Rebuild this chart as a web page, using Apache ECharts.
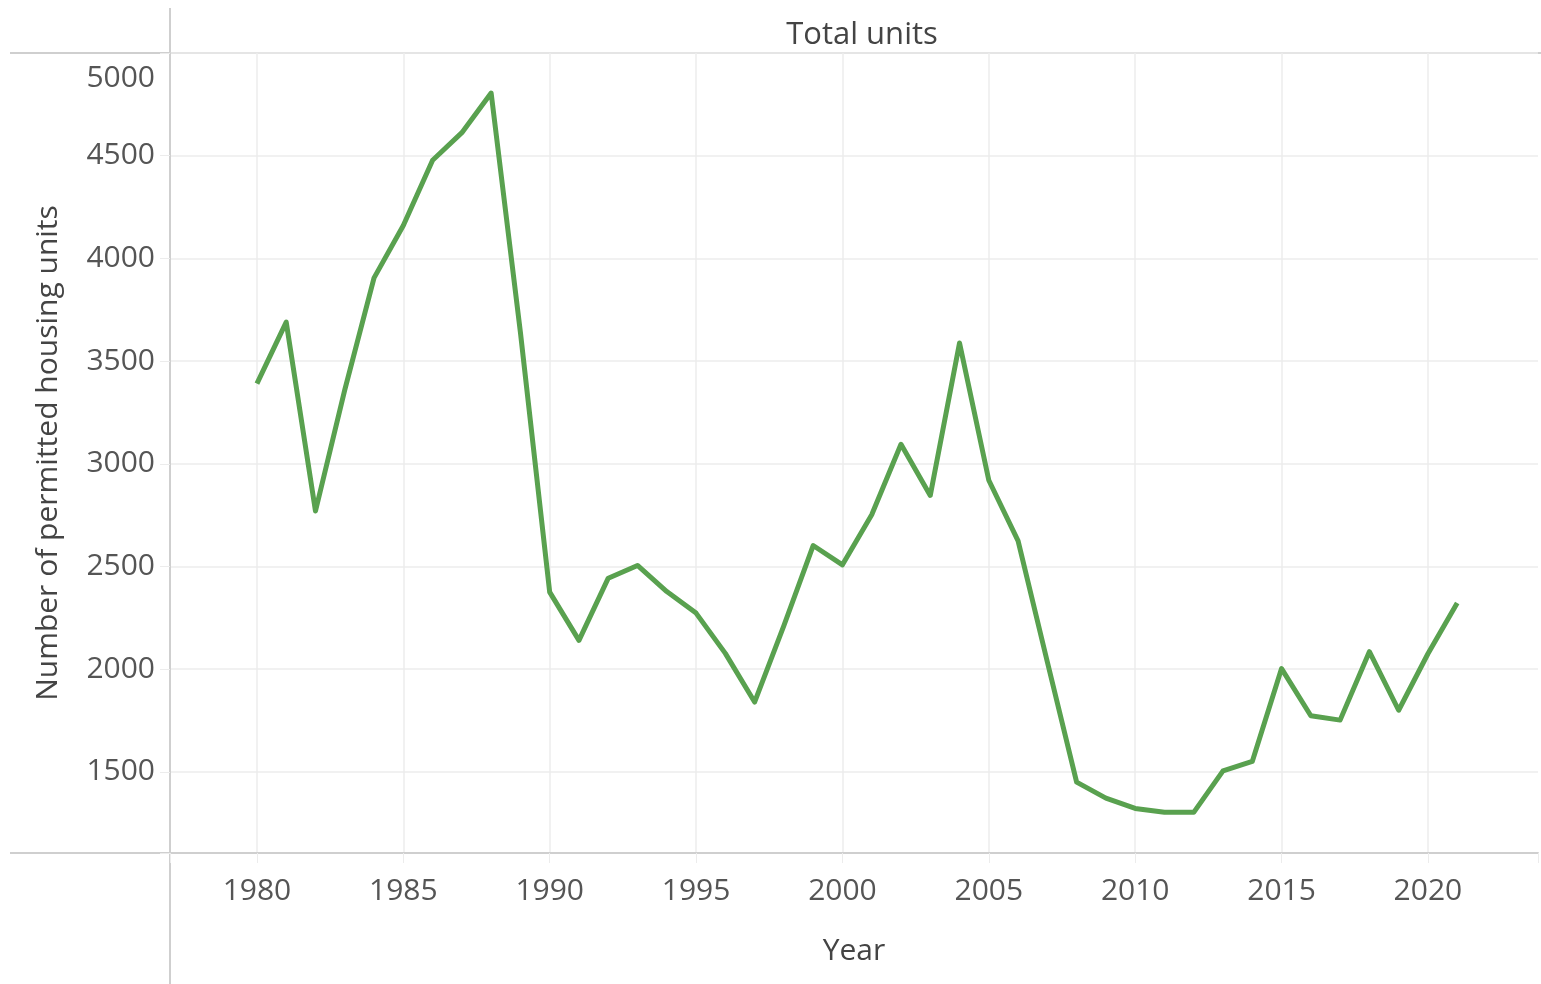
<!DOCTYPE html>
<html lang="en">

<head>
    <meta charset="UTF-8">
    <title>Total units</title>
    <style>
        html, body { margin: 0; padding: 0; background: #fff; }
        #chart { width: 1541px; height: 984px; }
    </style>
</head>

<body>
    <div id="chart"></div>

    <script src="https://cdn.jsdelivr.net/npm/echarts@6/dist/echarts.min.js"></script>
    <script>
        // permitted housing units per year
        var years = [1980, 1981, 1982, 1983, 1984, 1985, 1986, 1987, 1988, 1989,
            1990, 1991, 1992, 1993, 1994, 1995, 1996, 1997, 1998, 1999,
            2000, 2001, 2002, 2003, 2004, 2005, 2006, 2007, 2008, 2009,
            2010, 2011, 2012, 2013, 2014, 2015, 2016, 2017, 2018, 2019,
            2020, 2021];
        var totalUnits = [3390, 3690, 2770, 3360, 3905, 4160, 4478, 4612, 4805, 3640,
            2375, 2140, 2443, 2505, 2378, 2273, 2077, 1840, 2212, 2602,
            2508, 2752, 3095, 2846, 3588, 2920, 2625, 2035, 1450, 1372,
            1322, 1303, 1303, 1505, 1551, 2003, 1773, 1752, 2085, 1800,
            2075, 2322];
        var xTicks = [1980, 1985, 1990, 1995, 2000, 2005, 2010, 2015, 2020];
        var yTicks = [1500, 2000, 2500, 3000, 3500, 4000, 4500, 5000];

        var FONT = '"Open Sans", sans-serif';
        var chart = echarts.init(document.getElementById('chart'));

        var points = years.map(function (y, i) { return [y, totalUnits[i]]; });

        var option = {
            animation: false,
            title: {
                text: 'Total units',
                left: 857,
                textAlign: 'center',
                top: 15,
                textStyle: { fontFamily: FONT, fontSize: 31, fontWeight: 'normal', color: '#444' }
            },
            grid: { left: 170, right: 0, top: 53, bottom: 131 },
            xAxis: {
                type: 'value',
                min: 1977.03,
                max: 2023.76,
                minInterval: 5,
                maxInterval: 5,
                name: 'Year',
                nameLocation: 'middle',
                nameGap: 83,
                nameTextStyle: { fontFamily: FONT, fontSize: 30, color: '#444' },
                axisLine: { lineStyle: { color: '#cfcfcf', width: 2 } },
                axisTick: { show: true, length: 10, lineStyle: { color: '#ececec' } },
                splitLine: {
                    show: true, showMinLine: false, showMaxLine: false,
                    lineStyle: { color: '#ececec', width: 1.5 }
                },
                axisLabel: {
                    margin: 23,
                    fontFamily: FONT, fontSize: 30, color: '#555',
                    formatter: function (v) { return xTicks.indexOf(v) >= 0 ? String(v) : ''; }
                }
            },
            yAxis: {
                type: 'value',
                min: 1105,
                max: 5000,
                minInterval: 500,
                maxInterval: 500,
                name: 'Number of permitted housing units',
                nameLocation: 'middle',
                nameRotate: 90,
                nameGap: 107,
                nameTextStyle: { fontFamily: FONT, fontSize: 30, color: '#444' },
                axisLine: { show: true, lineStyle: { color: '#cfcfcf', width: 2 } },
                axisTick: { show: true, length: 10, lineStyle: { color: '#ececec' } },
                splitLine: {
                    show: true, showMinLine: false,
                    lineStyle: { color: '#ececec', width: 1.5 }
                },
                axisLabel: {
                    margin: 15,
                    fontFamily: FONT, fontSize: 30, color: '#555',
                    formatter: function (v) {
                        if (yTicks.indexOf(v) < 0) return '';
                        // top label sits inside the pane, like the original
                        return v === 5000 ? '{top|' + v + '}' : String(v);
                    },
                    rich: {
                        top: { fontFamily: FONT, fontSize: 30, color: '#555', padding: [50, 0, 0, 0] }
                    }
                }
            },
            graphic: [
                { type: 'line', shape: { x1: 10, y1: 53, x2: 1541, y2: 53 }, style: { stroke: '#cfcfcf', lineWidth: 2 } },
                { type: 'line', shape: { x1: 10, y1: 853, x2: 170, y2: 853 }, style: { stroke: '#cfcfcf', lineWidth: 2 } },
                { type: 'line', shape: { x1: 170, y1: 8, x2: 170, y2: 984 }, style: { stroke: '#cfcfcf', lineWidth: 2 } }
            ],
            series: [{
                type: 'line',
                data: points,
                symbol: 'none',
                lineStyle: { color: '#59a14f', width: 5, join: 'round' }
            }]
        };

        chart.setOption(option);
    </script>
</body>

</html>
